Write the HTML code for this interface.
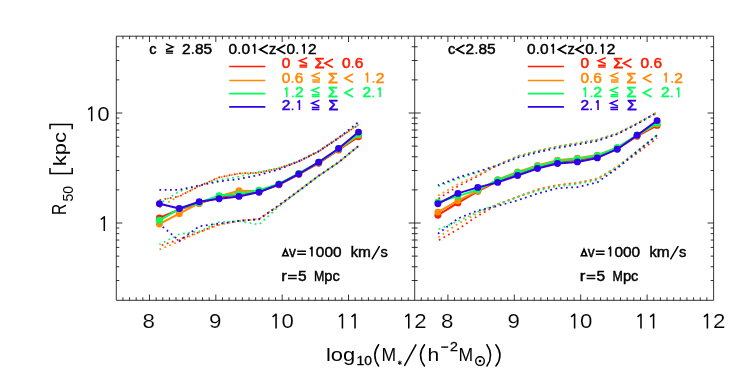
<!DOCTYPE html><html><head><meta charset="utf-8"><style>html,body{margin:0;padding:0;background:#fff}svg{display:block}text{font-family:"Liberation Sans",sans-serif;fill:#000}</style></head><body>
<svg width="747" height="374" viewBox="0 0 747 374">
<rect width="747" height="374" fill="#fff"/>
<polyline points="159.4,200.0 179.3,196.4 199.2,186.1 219.1,177.4 239.0,173.4 259.0,172.7 278.9,168.3 298.8,161.4 318.7,151.4 338.6,138.0 358.5,124.8" fill="none" stroke="#ff1e00" stroke-width="1.75" stroke-dasharray="1.75 3.55" stroke-dashoffset="0.06"/>
<polyline points="159.4,246.1 179.3,239.3 199.2,232.1 219.1,224.2 239.0,220.6 259.0,219.0 278.9,205.3 298.8,190.8 318.7,175.8 338.6,162.3 358.5,146.0" fill="none" stroke="#ff1e00" stroke-width="1.75" stroke-dasharray="1.75 3.55" stroke-dashoffset="2.80"/>
<polyline points="159.4,207.7 179.3,195.7 199.2,186.2 219.1,177.5 239.0,173.5 259.0,172.8 278.9,168.3 298.8,161.4 318.7,151.4 338.6,138.0 358.5,124.8" fill="none" stroke="#ff8a00" stroke-width="1.75" stroke-dasharray="1.75 3.55" stroke-dashoffset="0.28"/>
<polyline points="159.4,249.5 179.3,241.4 199.2,232.2 219.1,225.0 239.0,220.8 259.0,219.1 278.9,205.4 298.8,190.8 318.7,175.8 338.6,162.3 358.5,146.0" fill="none" stroke="#ff8a00" stroke-width="1.75" stroke-dasharray="1.75 3.55" stroke-dashoffset="5.24"/>
<polyline points="159.4,203.9 179.3,191.3 199.2,185.6 219.1,180.0 239.0,176.7 259.0,171.8 278.9,167.9 298.8,160.8 318.7,150.8 338.6,137.4 358.5,124.2" fill="none" stroke="#00ff5a" stroke-width="1.75" stroke-dasharray="1.75 3.55" stroke-dashoffset="1.37"/>
<polyline points="159.4,244.5 179.3,234.3 199.2,231.3 219.1,222.0 239.0,221.2 259.0,224.6 278.9,206.5 298.8,190.8 318.7,175.8 338.6,162.3 358.5,146.0" fill="none" stroke="#00ff5a" stroke-width="1.75" stroke-dasharray="1.75 3.55" stroke-dashoffset="0.36"/>
<polyline points="159.4,189.8 179.3,189.8 199.2,185.4 219.1,181.4 239.0,179.0 259.0,175.0 278.9,169.4 298.8,161.4 318.7,151.4 338.6,138.0 358.5,122.0" fill="none" stroke="#3200e6" stroke-width="1.75" stroke-dasharray="1.75 3.55" stroke-dashoffset="0.02"/>
<polyline points="159.4,224.0 179.3,240.8 199.2,226.3 219.1,223.6 239.0,221.0 259.0,219.3 278.9,205.3 298.8,190.8 318.7,175.8 338.6,162.3 358.5,146.0" fill="none" stroke="#3200e6" stroke-width="1.75" stroke-dasharray="1.75 3.55" stroke-dashoffset="0.93"/>
<polyline points="159.4,218.0 179.3,209.5 199.2,203.4 219.1,197.0 239.0,194.2 259.0,191.8 278.9,184.8 298.8,174.3 318.7,163.2 338.6,150.0 358.5,136.7" fill="none" stroke="#ff1e00" stroke-width="2.0" stroke-linejoin="round"/>
<circle cx="159.4" cy="218.0" r="3.45" fill="#ff1e00"/>
<circle cx="179.3" cy="209.5" r="3.45" fill="#ff1e00"/>
<circle cx="199.2" cy="203.4" r="3.45" fill="#ff1e00"/>
<circle cx="219.1" cy="197.0" r="3.45" fill="#ff1e00"/>
<circle cx="239.0" cy="194.2" r="3.45" fill="#ff1e00"/>
<circle cx="259.0" cy="191.8" r="3.45" fill="#ff1e00"/>
<circle cx="278.9" cy="184.8" r="3.45" fill="#ff1e00"/>
<circle cx="298.8" cy="174.3" r="3.45" fill="#ff1e00"/>
<circle cx="318.7" cy="163.2" r="3.45" fill="#ff1e00"/>
<circle cx="338.6" cy="150.0" r="3.45" fill="#ff1e00"/>
<circle cx="358.5" cy="136.7" r="3.45" fill="#ff1e00"/>
<polyline points="159.4,224.0 179.3,213.7 199.2,203.2 219.1,196.2 239.0,190.8 259.0,191.0 278.9,184.3 298.8,173.8 318.7,162.7 338.6,149.3 358.5,135.3" fill="none" stroke="#ff8a00" stroke-width="2.0" stroke-linejoin="round"/>
<circle cx="159.4" cy="224.0" r="3.45" fill="#ff8a00"/>
<circle cx="179.3" cy="213.7" r="3.45" fill="#ff8a00"/>
<circle cx="199.2" cy="203.2" r="3.45" fill="#ff8a00"/>
<circle cx="219.1" cy="196.2" r="3.45" fill="#ff8a00"/>
<circle cx="239.0" cy="190.8" r="3.45" fill="#ff8a00"/>
<circle cx="259.0" cy="191.0" r="3.45" fill="#ff8a00"/>
<circle cx="278.9" cy="184.3" r="3.45" fill="#ff8a00"/>
<circle cx="298.8" cy="173.8" r="3.45" fill="#ff8a00"/>
<circle cx="318.7" cy="162.7" r="3.45" fill="#ff8a00"/>
<circle cx="338.6" cy="149.3" r="3.45" fill="#ff8a00"/>
<circle cx="358.5" cy="135.3" r="3.45" fill="#ff8a00"/>
<polyline points="159.4,220.3 179.3,208.8 199.2,202.8 219.1,195.6 239.0,194.1 259.0,190.1 278.9,183.9 298.8,173.4 318.7,162.2 338.6,148.8 358.5,134.3" fill="none" stroke="#00ff5a" stroke-width="2.0" stroke-linejoin="round"/>
<circle cx="159.4" cy="220.3" r="3.45" fill="#00ff5a"/>
<circle cx="179.3" cy="208.8" r="3.45" fill="#00ff5a"/>
<circle cx="199.2" cy="202.8" r="3.45" fill="#00ff5a"/>
<circle cx="219.1" cy="195.6" r="3.45" fill="#00ff5a"/>
<circle cx="239.0" cy="194.1" r="3.45" fill="#00ff5a"/>
<circle cx="259.0" cy="190.1" r="3.45" fill="#00ff5a"/>
<circle cx="278.9" cy="183.9" r="3.45" fill="#00ff5a"/>
<circle cx="298.8" cy="173.4" r="3.45" fill="#00ff5a"/>
<circle cx="318.7" cy="162.2" r="3.45" fill="#00ff5a"/>
<circle cx="338.6" cy="148.8" r="3.45" fill="#00ff5a"/>
<circle cx="358.5" cy="134.3" r="3.45" fill="#00ff5a"/>
<polyline points="159.4,203.8 179.3,208.5 199.2,201.8 219.1,198.8 239.0,196.4 259.0,192.2 278.9,184.4 298.8,174.0 318.7,162.2 338.6,148.5 358.5,132.1" fill="none" stroke="#3200e6" stroke-width="2.0" stroke-linejoin="round"/>
<circle cx="159.4" cy="203.8" r="3.45" fill="#3200e6"/>
<circle cx="179.3" cy="208.5" r="3.45" fill="#3200e6"/>
<circle cx="199.2" cy="201.8" r="3.45" fill="#3200e6"/>
<circle cx="219.1" cy="198.8" r="3.45" fill="#3200e6"/>
<circle cx="239.0" cy="196.4" r="3.45" fill="#3200e6"/>
<circle cx="259.0" cy="192.2" r="3.45" fill="#3200e6"/>
<circle cx="278.9" cy="184.4" r="3.45" fill="#3200e6"/>
<circle cx="298.8" cy="174.0" r="3.45" fill="#3200e6"/>
<circle cx="318.7" cy="162.2" r="3.45" fill="#3200e6"/>
<circle cx="338.6" cy="148.5" r="3.45" fill="#3200e6"/>
<circle cx="358.5" cy="132.1" r="3.45" fill="#3200e6"/>
<polyline points="437.9,199.0 457.9,186.3 477.8,176.2 497.7,165.0 517.6,156.5 537.5,151.1 557.5,146.7 577.4,143.4 597.3,139.8 617.2,133.7 637.1,123.7 657.1,112.9" fill="none" stroke="#ff1e00" stroke-width="1.75" stroke-dasharray="1.75 3.55" stroke-dashoffset="4.63"/>
<polyline points="437.9,240.7 457.9,229.3 477.8,215.9 497.7,204.6 517.6,197.0 537.5,189.6 557.5,185.2 577.4,182.9 597.3,178.9 617.2,167.3 637.1,153.2 657.1,138.0" fill="none" stroke="#ff1e00" stroke-width="1.75" stroke-dasharray="1.75 3.55" stroke-dashoffset="4.17"/>
<polyline points="437.9,195.7 457.9,184.2 477.8,175.2 497.7,164.8 517.6,156.2 537.5,150.8 557.5,146.4 577.4,143.1 597.3,139.5 617.2,133.4 637.1,123.4 657.1,112.2" fill="none" stroke="#ff8a00" stroke-width="1.75" stroke-dasharray="1.75 3.55" stroke-dashoffset="5.07"/>
<polyline points="437.9,237.7 457.9,223.9 477.8,213.2 497.7,204.3 517.6,196.8 537.5,189.4 557.5,185.0 577.4,182.7 597.3,178.7 617.2,166.6 637.1,151.0 657.1,135.2" fill="none" stroke="#ff8a00" stroke-width="1.75" stroke-dasharray="1.75 3.55" stroke-dashoffset="4.70"/>
<polyline points="437.9,186.6 457.9,178.8 477.8,172.5 497.7,165.0 517.6,156.5 537.5,151.1 557.5,146.7 577.4,143.4 597.3,139.8 617.2,133.7 637.1,123.7 657.1,112.5" fill="none" stroke="#00ff5a" stroke-width="1.75" stroke-dasharray="1.75 3.55" stroke-dashoffset="4.57"/>
<polyline points="437.9,229.5 457.9,221.2 477.8,212.0 497.7,204.1 517.6,197.0 537.5,190.8 557.5,186.4 577.4,184.1 597.3,180.1 617.2,167.2 637.1,151.3 657.1,135.0" fill="none" stroke="#00ff5a" stroke-width="1.75" stroke-dasharray="1.75 3.55" stroke-dashoffset="4.34"/>
<polyline points="437.9,185.3 457.9,177.5 477.8,171.5 497.7,165.4 517.6,157.7 537.5,152.3 557.5,147.9 577.4,144.6 597.3,141.0 617.2,134.2 637.1,124.0 657.1,112.3" fill="none" stroke="#3200e6" stroke-width="1.75" stroke-dasharray="1.75 3.55" stroke-dashoffset="0.41"/>
<polyline points="437.9,233.8 457.9,218.5 477.8,210.5 497.7,206.0 517.6,200.3 537.5,193.6 557.5,188.2 577.4,187.1 597.3,182.4 617.2,168.4 637.1,151.5 657.1,135.2" fill="none" stroke="#3200e6" stroke-width="1.75" stroke-dasharray="1.75 3.55" stroke-dashoffset="5.16"/>
<polyline points="437.9,215.2 457.9,202.9 477.8,191.3 497.7,181.0 517.6,173.3 537.5,166.9 557.5,161.8 577.4,160.0 597.3,156.6 617.2,148.8 637.1,136.2 657.1,125.4" fill="none" stroke="#ff1e00" stroke-width="2.0" stroke-linejoin="round"/>
<circle cx="437.9" cy="215.2" r="3.45" fill="#ff1e00"/>
<circle cx="457.9" cy="202.9" r="3.45" fill="#ff1e00"/>
<circle cx="477.8" cy="191.3" r="3.45" fill="#ff1e00"/>
<circle cx="497.7" cy="181.0" r="3.45" fill="#ff1e00"/>
<circle cx="517.6" cy="173.3" r="3.45" fill="#ff1e00"/>
<circle cx="537.5" cy="166.9" r="3.45" fill="#ff1e00"/>
<circle cx="557.5" cy="161.8" r="3.45" fill="#ff1e00"/>
<circle cx="577.4" cy="160.0" r="3.45" fill="#ff1e00"/>
<circle cx="597.3" cy="156.6" r="3.45" fill="#ff1e00"/>
<circle cx="617.2" cy="148.8" r="3.45" fill="#ff1e00"/>
<circle cx="637.1" cy="136.2" r="3.45" fill="#ff1e00"/>
<circle cx="657.1" cy="125.4" r="3.45" fill="#ff1e00"/>
<polyline points="437.9,212.1 457.9,200.7 477.8,190.8 497.7,179.6 517.6,172.0 537.5,165.5 557.5,160.3 577.4,158.2 597.3,155.1 617.2,147.6 637.1,135.5 657.1,124.0" fill="none" stroke="#ff8a00" stroke-width="2.0" stroke-linejoin="round"/>
<circle cx="437.9" cy="212.1" r="3.45" fill="#ff8a00"/>
<circle cx="457.9" cy="200.7" r="3.45" fill="#ff8a00"/>
<circle cx="477.8" cy="190.8" r="3.45" fill="#ff8a00"/>
<circle cx="497.7" cy="179.6" r="3.45" fill="#ff8a00"/>
<circle cx="517.6" cy="172.0" r="3.45" fill="#ff8a00"/>
<circle cx="537.5" cy="165.5" r="3.45" fill="#ff8a00"/>
<circle cx="557.5" cy="160.3" r="3.45" fill="#ff8a00"/>
<circle cx="577.4" cy="158.2" r="3.45" fill="#ff8a00"/>
<circle cx="597.3" cy="155.1" r="3.45" fill="#ff8a00"/>
<circle cx="617.2" cy="147.6" r="3.45" fill="#ff8a00"/>
<circle cx="637.1" cy="135.5" r="3.45" fill="#ff8a00"/>
<circle cx="657.1" cy="124.0" r="3.45" fill="#ff8a00"/>
<polyline points="437.9,202.2 457.9,196.1 477.8,189.7 497.7,180.0 517.6,172.7 537.5,166.2 557.5,161.0 577.4,158.9 597.3,155.6 617.2,147.6 637.1,135.0 657.1,123.3" fill="none" stroke="#00ff5a" stroke-width="2.0" stroke-linejoin="round"/>
<circle cx="437.9" cy="202.2" r="3.45" fill="#00ff5a"/>
<circle cx="457.9" cy="196.1" r="3.45" fill="#00ff5a"/>
<circle cx="477.8" cy="189.7" r="3.45" fill="#00ff5a"/>
<circle cx="497.7" cy="180.0" r="3.45" fill="#00ff5a"/>
<circle cx="517.6" cy="172.7" r="3.45" fill="#00ff5a"/>
<circle cx="537.5" cy="166.2" r="3.45" fill="#00ff5a"/>
<circle cx="557.5" cy="161.0" r="3.45" fill="#00ff5a"/>
<circle cx="577.4" cy="158.9" r="3.45" fill="#00ff5a"/>
<circle cx="597.3" cy="155.6" r="3.45" fill="#00ff5a"/>
<circle cx="617.2" cy="147.6" r="3.45" fill="#00ff5a"/>
<circle cx="637.1" cy="135.0" r="3.45" fill="#00ff5a"/>
<circle cx="657.1" cy="123.3" r="3.45" fill="#00ff5a"/>
<polyline points="437.9,203.8 457.9,193.4 477.8,187.4 497.7,182.4 517.6,175.5 537.5,168.5 557.5,163.5 577.4,161.9 597.3,157.9 617.2,149.2 637.1,135.3 657.1,120.6" fill="none" stroke="#3200e6" stroke-width="2.0" stroke-linejoin="round"/>
<circle cx="437.9" cy="203.8" r="3.45" fill="#3200e6"/>
<circle cx="457.9" cy="193.4" r="3.45" fill="#3200e6"/>
<circle cx="477.8" cy="187.4" r="3.45" fill="#3200e6"/>
<circle cx="497.7" cy="182.4" r="3.45" fill="#3200e6"/>
<circle cx="517.6" cy="175.5" r="3.45" fill="#3200e6"/>
<circle cx="537.5" cy="168.5" r="3.45" fill="#3200e6"/>
<circle cx="557.5" cy="163.5" r="3.45" fill="#3200e6"/>
<circle cx="577.4" cy="161.9" r="3.45" fill="#3200e6"/>
<circle cx="597.3" cy="157.9" r="3.45" fill="#3200e6"/>
<circle cx="617.2" cy="149.2" r="3.45" fill="#3200e6"/>
<circle cx="637.1" cy="135.3" r="3.45" fill="#3200e6"/>
<circle cx="657.1" cy="120.6" r="3.45" fill="#3200e6"/>
<path d="M116.3 36.2H713.6V300.3H116.3ZM414.7 36.2V300.3M122.93 300.3v-3.0M122.93 36.2v3.0M129.57 300.3v-3.0M129.57 36.2v3.0M136.20 300.3v-3.0M136.20 36.2v3.0M142.84 300.3v-3.0M142.84 36.2v3.0M149.47 300.3v-5.8M149.47 36.2v5.8M156.11 300.3v-3.0M156.11 36.2v3.0M162.74 300.3v-3.0M162.74 36.2v3.0M169.38 300.3v-3.0M169.38 36.2v3.0M176.02 300.3v-3.0M176.02 36.2v3.0M182.65 300.3v-3.0M182.65 36.2v3.0M189.28 300.3v-3.0M189.28 36.2v3.0M195.92 300.3v-3.0M195.92 36.2v3.0M202.56 300.3v-3.0M202.56 36.2v3.0M209.19 300.3v-3.0M209.19 36.2v3.0M215.82 300.3v-5.8M215.82 36.2v5.8M222.46 300.3v-3.0M222.46 36.2v3.0M229.09 300.3v-3.0M229.09 36.2v3.0M235.73 300.3v-3.0M235.73 36.2v3.0M242.37 300.3v-3.0M242.37 36.2v3.0M249.00 300.3v-3.0M249.00 36.2v3.0M255.63 300.3v-3.0M255.63 36.2v3.0M262.27 300.3v-3.0M262.27 36.2v3.0M268.91 300.3v-3.0M268.91 36.2v3.0M275.54 300.3v-3.0M275.54 36.2v3.0M282.18 300.3v-5.8M282.18 36.2v5.8M288.81 300.3v-3.0M288.81 36.2v3.0M295.44 300.3v-3.0M295.44 36.2v3.0M302.08 300.3v-3.0M302.08 36.2v3.0M308.72 300.3v-3.0M308.72 36.2v3.0M315.35 300.3v-3.0M315.35 36.2v3.0M321.98 300.3v-3.0M321.98 36.2v3.0M328.62 300.3v-3.0M328.62 36.2v3.0M335.26 300.3v-3.0M335.26 36.2v3.0M341.89 300.3v-3.0M341.89 36.2v3.0M348.52 300.3v-5.8M348.52 36.2v5.8M355.16 300.3v-3.0M355.16 36.2v3.0M361.79 300.3v-3.0M361.79 36.2v3.0M368.43 300.3v-3.0M368.43 36.2v3.0M375.06 300.3v-3.0M375.06 36.2v3.0M381.70 300.3v-3.0M381.70 36.2v3.0M388.33 300.3v-3.0M388.33 36.2v3.0M394.97 300.3v-3.0M394.97 36.2v3.0M401.61 300.3v-3.0M401.61 36.2v3.0M408.24 300.3v-3.0M408.24 36.2v3.0M421.34 300.3v-3.0M421.34 36.2v3.0M427.98 300.3v-3.0M427.98 36.2v3.0M434.62 300.3v-3.0M434.62 36.2v3.0M441.26 300.3v-3.0M441.26 36.2v3.0M447.90 300.3v-5.8M447.90 36.2v5.8M454.54 300.3v-3.0M454.54 36.2v3.0M461.18 300.3v-3.0M461.18 36.2v3.0M467.82 300.3v-3.0M467.82 36.2v3.0M474.46 300.3v-3.0M474.46 36.2v3.0M481.10 300.3v-3.0M481.10 36.2v3.0M487.74 300.3v-3.0M487.74 36.2v3.0M494.38 300.3v-3.0M494.38 36.2v3.0M501.02 300.3v-3.0M501.02 36.2v3.0M507.66 300.3v-3.0M507.66 36.2v3.0M514.30 300.3v-5.8M514.30 36.2v5.8M520.94 300.3v-3.0M520.94 36.2v3.0M527.58 300.3v-3.0M527.58 36.2v3.0M534.22 300.3v-3.0M534.22 36.2v3.0M540.86 300.3v-3.0M540.86 36.2v3.0M547.50 300.3v-3.0M547.50 36.2v3.0M554.14 300.3v-3.0M554.14 36.2v3.0M560.78 300.3v-3.0M560.78 36.2v3.0M567.42 300.3v-3.0M567.42 36.2v3.0M574.06 300.3v-3.0M574.06 36.2v3.0M580.70 300.3v-5.8M580.70 36.2v5.8M587.34 300.3v-3.0M587.34 36.2v3.0M593.98 300.3v-3.0M593.98 36.2v3.0M600.62 300.3v-3.0M600.62 36.2v3.0M607.26 300.3v-3.0M607.26 36.2v3.0M613.90 300.3v-3.0M613.90 36.2v3.0M620.54 300.3v-3.0M620.54 36.2v3.0M627.18 300.3v-3.0M627.18 36.2v3.0M633.82 300.3v-3.0M633.82 36.2v3.0M640.46 300.3v-3.0M640.46 36.2v3.0M647.10 300.3v-5.8M647.10 36.2v5.8M653.74 300.3v-3.0M653.74 36.2v3.0M660.38 300.3v-3.0M660.38 36.2v3.0M667.02 300.3v-3.0M667.02 36.2v3.0M673.66 300.3v-3.0M673.66 36.2v3.0M680.30 300.3v-3.0M680.30 36.2v3.0M686.94 300.3v-3.0M686.94 36.2v3.0M693.58 300.3v-3.0M693.58 36.2v3.0M700.22 300.3v-3.0M700.22 36.2v3.0M706.86 300.3v-3.0M706.86 36.2v3.0M116.3 280.52h3.0M414.7 280.52h-3.0M414.7 280.52h3.0M713.6 280.52h-3.0M116.3 266.77h3.0M414.7 266.77h-3.0M414.7 266.77h3.0M713.6 266.77h-3.0M116.3 256.11h3.0M414.7 256.11h-3.0M414.7 256.11h3.0M713.6 256.11h-3.0M116.3 247.40h3.0M414.7 247.40h-3.0M414.7 247.40h3.0M713.6 247.40h-3.0M116.3 240.04h3.0M414.7 240.04h-3.0M414.7 240.04h3.0M713.6 240.04h-3.0M116.3 233.66h3.0M414.7 233.66h-3.0M414.7 233.66h3.0M713.6 233.66h-3.0M116.3 228.03h3.0M414.7 228.03h-3.0M414.7 228.03h3.0M713.6 228.03h-3.0M116.3 223.00h6.0M414.7 223.00h-6.0M414.7 223.00h6.0M713.6 223.00h-6.0M116.3 189.89h3.0M414.7 189.89h-3.0M414.7 189.89h3.0M713.6 189.89h-3.0M116.3 170.52h3.0M414.7 170.52h-3.0M414.7 170.52h3.0M713.6 170.52h-3.0M116.3 156.77h3.0M414.7 156.77h-3.0M414.7 156.77h3.0M713.6 156.77h-3.0M116.3 146.11h3.0M414.7 146.11h-3.0M414.7 146.11h3.0M713.6 146.11h-3.0M116.3 137.40h3.0M414.7 137.40h-3.0M414.7 137.40h3.0M713.6 137.40h-3.0M116.3 130.04h3.0M414.7 130.04h-3.0M414.7 130.04h3.0M713.6 130.04h-3.0M116.3 123.66h3.0M414.7 123.66h-3.0M414.7 123.66h3.0M713.6 123.66h-3.0M116.3 118.03h3.0M414.7 118.03h-3.0M414.7 118.03h3.0M713.6 118.03h-3.0M116.3 113.00h6.0M414.7 113.00h-6.0M414.7 113.00h6.0M713.6 113.00h-6.0M116.3 79.89h3.0M414.7 79.89h-3.0M414.7 79.89h3.0M713.6 79.89h-3.0M116.3 60.52h3.0M414.7 60.52h-3.0M414.7 60.52h3.0M713.6 60.52h-3.0M116.3 46.77h3.0M414.7 46.77h-3.0M414.7 46.77h3.0M713.6 46.77h-3.0" stroke="#000" stroke-width="0.8" fill="none"/>
<g opacity="0.999">
<text x="142.6" y="328.4" font-size="20.5" textLength="12.4" lengthAdjust="spacingAndGlyphs" stroke="#fff" stroke-width="0.15">8</text>
<text x="208.9" y="328.4" font-size="20.5" textLength="12.4" lengthAdjust="spacingAndGlyphs" stroke="#fff" stroke-width="0.15">9</text>
<path d="M272.57 316.90L276.07 314.20V328.40" fill="none" stroke="#000" stroke-width="1.55" stroke-linejoin="round"/>
<text x="281.6" y="328.4" font-size="20.5" textLength="12.4" lengthAdjust="spacingAndGlyphs" stroke="#fff" stroke-width="0.15">0</text>
<path d="M338.92 316.90L342.42 314.20V328.40" fill="none" stroke="#000" stroke-width="1.55" stroke-linejoin="round"/>
<path d="M351.52 316.90L355.02 314.20V328.40" fill="none" stroke="#000" stroke-width="1.55" stroke-linejoin="round"/>
<path d="M405.27 316.90L408.77 314.20V328.40" fill="none" stroke="#000" stroke-width="1.55" stroke-linejoin="round"/>
<text x="414.3" y="328.4" font-size="20.5" textLength="12.4" lengthAdjust="spacingAndGlyphs" stroke="#fff" stroke-width="0.15">2</text>
<text x="441.0" y="328.4" font-size="20.5" textLength="12.4" lengthAdjust="spacingAndGlyphs" stroke="#fff" stroke-width="0.15">8</text>
<text x="507.4" y="328.4" font-size="20.5" textLength="12.4" lengthAdjust="spacingAndGlyphs" stroke="#fff" stroke-width="0.15">9</text>
<path d="M571.10 316.90L574.60 314.20V328.40" fill="none" stroke="#000" stroke-width="1.55" stroke-linejoin="round"/>
<text x="580.1" y="328.4" font-size="20.5" textLength="12.4" lengthAdjust="spacingAndGlyphs" stroke="#fff" stroke-width="0.15">0</text>
<path d="M637.50 316.90L641.00 314.20V328.40" fill="none" stroke="#000" stroke-width="1.55" stroke-linejoin="round"/>
<path d="M650.10 316.90L653.60 314.20V328.40" fill="none" stroke="#000" stroke-width="1.55" stroke-linejoin="round"/>
<path d="M703.90 316.90L707.40 314.20V328.40" fill="none" stroke="#000" stroke-width="1.55" stroke-linejoin="round"/>
<text x="712.9" y="328.4" font-size="20.5" textLength="12.4" lengthAdjust="spacingAndGlyphs" stroke="#fff" stroke-width="0.15">2</text>
<path d="M88.20 109.70L91.70 107.00V121.20" fill="none" stroke="#000" stroke-width="1.55" stroke-linejoin="round"/>
<text x="97.2" y="121.2" font-size="20.5" textLength="12.4" lengthAdjust="spacingAndGlyphs" stroke="#fff" stroke-width="0.15">0</text>
<path d="M100.80 219.50L104.30 216.80V231.00" fill="none" stroke="#000" stroke-width="1.55" stroke-linejoin="round"/>
<text x="149.2" y="53.8" font-size="14.0" textLength="7.3" lengthAdjust="spacingAndGlyphs" fill="#000" style="fill:#000" stroke="#000" stroke-width="0.45">c</text>
<path d="M165.9 43.8L173.1 46.9L165.9 49.8M165.9 51.3H173.1M165.9 53.1H173.1" fill="none" stroke="#000" stroke-width="1.40"/>
<text x="182.0" y="53.8" font-size="14.0" textLength="8.6" lengthAdjust="spacingAndGlyphs" fill="#000" style="fill:#000" stroke="#000" stroke-width="0.45">2</text>
<rect x="191.90" y="52.20" width="1.7" height="1.7" fill="#000"/>
<text x="194.9" y="53.8" font-size="14.0" textLength="8.6" lengthAdjust="spacingAndGlyphs" fill="#000" style="fill:#000" stroke="#000" stroke-width="0.45">8</text>
<text x="203.5" y="53.8" font-size="14.0" textLength="8.6" lengthAdjust="spacingAndGlyphs" fill="#000" style="fill:#000" stroke="#000" stroke-width="0.45">5</text>
<text x="228.5" y="53.8" font-size="14.0" textLength="8.6" lengthAdjust="spacingAndGlyphs" fill="#000" style="fill:#000" stroke="#000" stroke-width="0.45">0</text>
<rect x="238.40" y="52.20" width="1.7" height="1.7" fill="#000"/>
<text x="241.4" y="53.8" font-size="14.0" textLength="8.6" lengthAdjust="spacingAndGlyphs" fill="#000" style="fill:#000" stroke="#000" stroke-width="0.45">0</text>
<path d="M252.58 46.09L253.44 45.66L254.73 44.37V53.80" fill="none" stroke="#000" stroke-width="1.6" stroke-linejoin="round"/>
<path d="M267.8 45.1L259.8 49.4L267.8 53.7" fill="none" stroke="#000" stroke-width="1.70"/>
<text x="268.9" y="53.8" font-size="14.0" textLength="7.3" lengthAdjust="spacingAndGlyphs" fill="#000" style="fill:#000" stroke="#000" stroke-width="0.45">z</text>
<path d="M285.4 45.1L277.4 49.4L285.4 53.7" fill="none" stroke="#000" stroke-width="1.70"/>
<text x="286.6" y="53.8" font-size="14.0" textLength="8.6" lengthAdjust="spacingAndGlyphs" fill="#000" style="fill:#000" stroke="#000" stroke-width="0.45">0</text>
<rect x="296.45" y="52.20" width="1.7" height="1.7" fill="#000"/>
<path d="M302.03 46.09L302.89 45.66L304.18 44.37V53.80" fill="none" stroke="#000" stroke-width="1.6" stroke-linejoin="round"/>
<text x="308.1" y="53.8" font-size="14.0" textLength="8.6" lengthAdjust="spacingAndGlyphs" fill="#000" style="fill:#000" stroke="#000" stroke-width="0.45">2</text>
<path d="M229.2 66.5H265.3" stroke="#ff1e00" stroke-width="1.7"/>
<path d="M229.2 80.5H265.3" stroke="#ff8a00" stroke-width="1.7"/>
<path d="M229.2 93.7H265.3" stroke="#00ff5a" stroke-width="1.7"/>
<path d="M229.2 106.9H265.3" stroke="#3200e6" stroke-width="1.7"/>
<text x="281.8" y="67.7" font-size="14.0" textLength="8.6" lengthAdjust="spacingAndGlyphs" fill="#ff1e00" style="fill:#ff1e00" stroke="#ff1e00" stroke-width="0.55">0</text>
<path d="M307.1 57.7L299.5 60.8L307.1 63.7M299.5 65.2H307.1M299.5 67.0H307.1" fill="none" stroke="#ff1e00" stroke-width="1.50"/>
<text x="314.7" y="67.7" font-size="15.0" textLength="9.8" lengthAdjust="spacingAndGlyphs" fill="#ff1e00" style="fill:#ff1e00" stroke="#ff1e00" stroke-width="0.75">Σ</text>
<path d="M332.9 59.0L324.9 63.3L332.9 67.6" fill="none" stroke="#ff1e00" stroke-width="1.70"/>
<text x="341.9" y="67.7" font-size="14.0" textLength="8.6" lengthAdjust="spacingAndGlyphs" fill="#ff1e00" style="fill:#ff1e00" stroke="#ff1e00" stroke-width="0.55">0</text>
<rect x="351.80" y="66.10" width="1.7" height="1.7" fill="#ff1e00"/>
<text x="354.8" y="67.7" font-size="14.0" textLength="8.6" lengthAdjust="spacingAndGlyphs" fill="#ff1e00" style="fill:#ff1e00" stroke="#ff1e00" stroke-width="0.55">6</text>
<text x="281.8" y="82.6" font-size="14.0" textLength="8.6" lengthAdjust="spacingAndGlyphs" fill="#ff8a00" style="fill:#ff8a00" stroke="#ff8a00" stroke-width="0.55">0</text>
<rect x="291.70" y="81.00" width="1.7" height="1.7" fill="#ff8a00"/>
<text x="294.7" y="82.6" font-size="14.0" textLength="8.6" lengthAdjust="spacingAndGlyphs" fill="#ff8a00" style="fill:#ff8a00" stroke="#ff8a00" stroke-width="0.55">6</text>
<path d="M319.9 72.6L312.3 75.7L319.9 78.6M312.3 80.1H319.9M312.3 81.9H319.9" fill="none" stroke="#ff8a00" stroke-width="1.50"/>
<text x="327.9" y="82.6" font-size="15.0" textLength="9.8" lengthAdjust="spacingAndGlyphs" fill="#ff8a00" style="fill:#ff8a00" stroke="#ff8a00" stroke-width="0.75">Σ</text>
<path d="M353.0 73.9L345.0 78.2L353.0 82.5" fill="none" stroke="#ff8a00" stroke-width="1.70"/>
<path d="M365.38 74.89L366.24 74.46L367.53 73.17V82.60" fill="none" stroke="#ff8a00" stroke-width="1.6" stroke-linejoin="round"/>
<rect x="372.70" y="81.00" width="1.7" height="1.7" fill="#ff8a00"/>
<text x="375.7" y="82.6" font-size="14.0" textLength="8.6" lengthAdjust="spacingAndGlyphs" fill="#ff8a00" style="fill:#ff8a00" stroke="#ff8a00" stroke-width="0.55">2</text>
<path d="M284.68 89.49L285.54 89.06L286.83 87.77V97.20" fill="none" stroke="#00ff5a" stroke-width="1.6" stroke-linejoin="round"/>
<rect x="292.00" y="95.60" width="1.7" height="1.7" fill="#00ff5a"/>
<text x="295.0" y="97.2" font-size="14.0" textLength="8.6" lengthAdjust="spacingAndGlyphs" fill="#00ff5a" style="fill:#00ff5a" stroke="#00ff5a" stroke-width="0.55">2</text>
<path d="M319.6 87.2L312.0 90.3L319.6 93.2M312.0 94.8H319.6M312.0 96.5H319.6" fill="none" stroke="#00ff5a" stroke-width="1.50"/>
<text x="327.9" y="97.2" font-size="15.0" textLength="9.8" lengthAdjust="spacingAndGlyphs" fill="#00ff5a" style="fill:#00ff5a" stroke="#00ff5a" stroke-width="0.75">Σ</text>
<path d="M353.0 88.5L345.0 92.8L353.0 97.1" fill="none" stroke="#00ff5a" stroke-width="1.70"/>
<text x="362.5" y="97.2" font-size="14.0" textLength="8.6" lengthAdjust="spacingAndGlyphs" fill="#00ff5a" style="fill:#00ff5a" stroke="#00ff5a" stroke-width="0.55">2</text>
<rect x="372.40" y="95.60" width="1.7" height="1.7" fill="#00ff5a"/>
<path d="M377.98 89.49L378.84 89.06L380.13 87.77V97.20" fill="none" stroke="#00ff5a" stroke-width="1.6" stroke-linejoin="round"/>
<text x="281.8" y="110.1" font-size="14.0" textLength="8.6" lengthAdjust="spacingAndGlyphs" fill="#3200e6" style="fill:#3200e6" stroke="#3200e6" stroke-width="0.55">2</text>
<rect x="291.70" y="108.50" width="1.7" height="1.7" fill="#3200e6"/>
<path d="M297.28 102.39L298.14 101.96L299.43 100.67V110.10" fill="none" stroke="#3200e6" stroke-width="1.6" stroke-linejoin="round"/>
<path d="M319.4 100.1L311.8 103.2L319.4 106.1M311.8 107.6H319.4M311.8 109.4H319.4" fill="none" stroke="#3200e6" stroke-width="1.50"/>
<text x="328.4" y="110.1" font-size="15.0" textLength="9.8" lengthAdjust="spacingAndGlyphs" fill="#3200e6" style="fill:#3200e6" stroke="#3200e6" stroke-width="0.75">Σ</text>
<path d="M282.70 255.75L285.40 249.40L288.10 255.75Z" fill="none" stroke="#000" stroke-width="1.7" stroke-linejoin="miter"/>
<text x="289.1" y="256.6" font-size="14.0" textLength="6.9" lengthAdjust="spacingAndGlyphs" fill="#000" style="fill:#000" stroke="#000" stroke-width="0.45">v</text>
<path d="M297.24 251.14h8.74M297.24 254.32h8.74" fill="none" stroke="#000" stroke-width="1.5"/>
<path d="M309.78 248.89L310.64 248.46L311.93 247.17V256.60" fill="none" stroke="#000" stroke-width="1.6" stroke-linejoin="round"/>
<text x="315.8" y="256.6" font-size="14.0" textLength="8.6" lengthAdjust="spacingAndGlyphs" fill="#000" style="fill:#000" stroke="#000" stroke-width="0.45">0</text>
<text x="324.4" y="256.6" font-size="14.0" textLength="8.6" lengthAdjust="spacingAndGlyphs" fill="#000" style="fill:#000" stroke="#000" stroke-width="0.45">0</text>
<text x="333.0" y="256.6" font-size="14.0" textLength="8.6" lengthAdjust="spacingAndGlyphs" fill="#000" style="fill:#000" stroke="#000" stroke-width="0.45">0</text>
<text x="350.8" y="256.6" font-size="14.0" textLength="7.3" lengthAdjust="spacingAndGlyphs" fill="#000" style="fill:#000" stroke="#000" stroke-width="0.45">k</text>
<text x="358.1" y="256.6" font-size="14.0" textLength="12.9" lengthAdjust="spacingAndGlyphs" fill="#000" style="fill:#000" stroke="#000" stroke-width="0.45">m</text>
<path d="M379.61 246.07L371.87 259.40" fill="none" stroke="#000" stroke-width="1.5"/>
<text x="380.5" y="256.6" font-size="14.0" textLength="7.3" lengthAdjust="spacingAndGlyphs" fill="#000" style="fill:#000" stroke="#000" stroke-width="0.45">s</text>
<text x="281.2" y="280.9" font-size="14.0" textLength="5.6" lengthAdjust="spacingAndGlyphs" fill="#000" style="fill:#000" stroke="#000" stroke-width="0.45">r</text>
<path d="M288.01 275.44h8.74M288.01 278.62h8.74" fill="none" stroke="#000" stroke-width="1.5"/>
<text x="298.0" y="280.9" font-size="14.0" textLength="8.6" lengthAdjust="spacingAndGlyphs" fill="#000" style="fill:#000" stroke="#000" stroke-width="0.45">5</text>
<text x="314.0" y="280.9" font-size="14.0" textLength="10.3" lengthAdjust="spacingAndGlyphs" fill="#000" style="fill:#000" stroke="#000" stroke-width="0.45">M</text>
<text x="324.3" y="280.9" font-size="14.0" textLength="8.2" lengthAdjust="spacingAndGlyphs" fill="#000" style="fill:#000" stroke="#000" stroke-width="0.45">p</text>
<text x="332.5" y="280.9" font-size="14.0" textLength="7.3" lengthAdjust="spacingAndGlyphs" fill="#000" style="fill:#000" stroke="#000" stroke-width="0.45">c</text>
<text x="448.0" y="53.8" font-size="14.0" textLength="7.3" lengthAdjust="spacingAndGlyphs" fill="#000" style="fill:#000" stroke="#000" stroke-width="0.45">c</text>
<path d="M464.5 45.1L456.5 49.4L464.5 53.7" fill="none" stroke="#000" stroke-width="1.70"/>
<text x="465.6" y="53.8" font-size="14.0" textLength="8.6" lengthAdjust="spacingAndGlyphs" fill="#000" style="fill:#000" stroke="#000" stroke-width="0.45">2</text>
<rect x="475.53" y="52.20" width="1.7" height="1.7" fill="#000"/>
<text x="478.5" y="53.8" font-size="14.0" textLength="8.6" lengthAdjust="spacingAndGlyphs" fill="#000" style="fill:#000" stroke="#000" stroke-width="0.45">8</text>
<text x="487.1" y="53.8" font-size="14.0" textLength="8.6" lengthAdjust="spacingAndGlyphs" fill="#000" style="fill:#000" stroke="#000" stroke-width="0.45">5</text>
<text x="527.1" y="53.8" font-size="14.0" textLength="8.6" lengthAdjust="spacingAndGlyphs" fill="#000" style="fill:#000" stroke="#000" stroke-width="0.45">0</text>
<rect x="537.00" y="52.20" width="1.7" height="1.7" fill="#000"/>
<text x="540.0" y="53.8" font-size="14.0" textLength="8.6" lengthAdjust="spacingAndGlyphs" fill="#000" style="fill:#000" stroke="#000" stroke-width="0.45">0</text>
<path d="M551.18 46.09L552.04 45.66L553.33 44.37V53.80" fill="none" stroke="#000" stroke-width="1.6" stroke-linejoin="round"/>
<path d="M566.4 45.1L558.4 49.4L566.4 53.7" fill="none" stroke="#000" stroke-width="1.70"/>
<text x="567.5" y="53.8" font-size="14.0" textLength="7.3" lengthAdjust="spacingAndGlyphs" fill="#000" style="fill:#000" stroke="#000" stroke-width="0.45">z</text>
<path d="M584.0 45.1L576.0 49.4L584.0 53.7" fill="none" stroke="#000" stroke-width="1.70"/>
<text x="585.2" y="53.8" font-size="14.0" textLength="8.6" lengthAdjust="spacingAndGlyphs" fill="#000" style="fill:#000" stroke="#000" stroke-width="0.45">0</text>
<rect x="595.05" y="52.20" width="1.7" height="1.7" fill="#000"/>
<path d="M600.63 46.09L601.49 45.66L602.78 44.37V53.80" fill="none" stroke="#000" stroke-width="1.6" stroke-linejoin="round"/>
<text x="606.7" y="53.8" font-size="14.0" textLength="8.6" lengthAdjust="spacingAndGlyphs" fill="#000" style="fill:#000" stroke="#000" stroke-width="0.45">2</text>
<path d="M527.8 66.5H563.9" stroke="#ff1e00" stroke-width="1.7"/>
<path d="M527.8 80.5H563.9" stroke="#ff8a00" stroke-width="1.7"/>
<path d="M527.8 93.7H563.9" stroke="#00ff5a" stroke-width="1.7"/>
<path d="M527.8 106.9H563.9" stroke="#3200e6" stroke-width="1.7"/>
<text x="580.4" y="67.7" font-size="14.0" textLength="8.6" lengthAdjust="spacingAndGlyphs" fill="#ff1e00" style="fill:#ff1e00" stroke="#ff1e00" stroke-width="0.55">0</text>
<path d="M605.7 57.7L598.1 60.8L605.7 63.7M598.1 65.2H605.7M598.1 67.0H605.7" fill="none" stroke="#ff1e00" stroke-width="1.50"/>
<text x="613.3" y="67.7" font-size="15.0" textLength="9.8" lengthAdjust="spacingAndGlyphs" fill="#ff1e00" style="fill:#ff1e00" stroke="#ff1e00" stroke-width="0.75">Σ</text>
<path d="M631.5 59.0L623.5 63.3L631.5 67.6" fill="none" stroke="#ff1e00" stroke-width="1.70"/>
<text x="640.5" y="67.7" font-size="14.0" textLength="8.6" lengthAdjust="spacingAndGlyphs" fill="#ff1e00" style="fill:#ff1e00" stroke="#ff1e00" stroke-width="0.55">0</text>
<rect x="650.40" y="66.10" width="1.7" height="1.7" fill="#ff1e00"/>
<text x="653.4" y="67.7" font-size="14.0" textLength="8.6" lengthAdjust="spacingAndGlyphs" fill="#ff1e00" style="fill:#ff1e00" stroke="#ff1e00" stroke-width="0.55">6</text>
<text x="580.4" y="82.6" font-size="14.0" textLength="8.6" lengthAdjust="spacingAndGlyphs" fill="#ff8a00" style="fill:#ff8a00" stroke="#ff8a00" stroke-width="0.55">0</text>
<rect x="590.30" y="81.00" width="1.7" height="1.7" fill="#ff8a00"/>
<text x="593.3" y="82.6" font-size="14.0" textLength="8.6" lengthAdjust="spacingAndGlyphs" fill="#ff8a00" style="fill:#ff8a00" stroke="#ff8a00" stroke-width="0.55">6</text>
<path d="M618.5 72.6L610.9 75.7L618.5 78.6M610.9 80.1H618.5M610.9 81.9H618.5" fill="none" stroke="#ff8a00" stroke-width="1.50"/>
<text x="626.5" y="82.6" font-size="15.0" textLength="9.8" lengthAdjust="spacingAndGlyphs" fill="#ff8a00" style="fill:#ff8a00" stroke="#ff8a00" stroke-width="0.75">Σ</text>
<path d="M651.6 73.9L643.6 78.2L651.6 82.5" fill="none" stroke="#ff8a00" stroke-width="1.70"/>
<path d="M663.98 74.89L664.84 74.46L666.13 73.17V82.60" fill="none" stroke="#ff8a00" stroke-width="1.6" stroke-linejoin="round"/>
<rect x="671.30" y="81.00" width="1.7" height="1.7" fill="#ff8a00"/>
<text x="674.3" y="82.6" font-size="14.0" textLength="8.6" lengthAdjust="spacingAndGlyphs" fill="#ff8a00" style="fill:#ff8a00" stroke="#ff8a00" stroke-width="0.55">2</text>
<path d="M583.28 89.49L584.14 89.06L585.43 87.77V97.20" fill="none" stroke="#00ff5a" stroke-width="1.6" stroke-linejoin="round"/>
<rect x="590.60" y="95.60" width="1.7" height="1.7" fill="#00ff5a"/>
<text x="593.6" y="97.2" font-size="14.0" textLength="8.6" lengthAdjust="spacingAndGlyphs" fill="#00ff5a" style="fill:#00ff5a" stroke="#00ff5a" stroke-width="0.55">2</text>
<path d="M618.2 87.2L610.6 90.3L618.2 93.2M610.6 94.8H618.2M610.6 96.5H618.2" fill="none" stroke="#00ff5a" stroke-width="1.50"/>
<text x="626.5" y="97.2" font-size="15.0" textLength="9.8" lengthAdjust="spacingAndGlyphs" fill="#00ff5a" style="fill:#00ff5a" stroke="#00ff5a" stroke-width="0.75">Σ</text>
<path d="M651.6 88.5L643.6 92.8L651.6 97.1" fill="none" stroke="#00ff5a" stroke-width="1.70"/>
<text x="661.1" y="97.2" font-size="14.0" textLength="8.6" lengthAdjust="spacingAndGlyphs" fill="#00ff5a" style="fill:#00ff5a" stroke="#00ff5a" stroke-width="0.55">2</text>
<rect x="671.00" y="95.60" width="1.7" height="1.7" fill="#00ff5a"/>
<path d="M676.58 89.49L677.44 89.06L678.73 87.77V97.20" fill="none" stroke="#00ff5a" stroke-width="1.6" stroke-linejoin="round"/>
<text x="580.4" y="110.1" font-size="14.0" textLength="8.6" lengthAdjust="spacingAndGlyphs" fill="#3200e6" style="fill:#3200e6" stroke="#3200e6" stroke-width="0.55">2</text>
<rect x="590.30" y="108.50" width="1.7" height="1.7" fill="#3200e6"/>
<path d="M595.88 102.39L596.74 101.96L598.03 100.67V110.10" fill="none" stroke="#3200e6" stroke-width="1.6" stroke-linejoin="round"/>
<path d="M618.0 100.1L610.4 103.2L618.0 106.1M610.4 107.6H618.0M610.4 109.4H618.0" fill="none" stroke="#3200e6" stroke-width="1.50"/>
<text x="627.0" y="110.1" font-size="15.0" textLength="9.8" lengthAdjust="spacingAndGlyphs" fill="#3200e6" style="fill:#3200e6" stroke="#3200e6" stroke-width="0.75">Σ</text>
<path d="M581.30 255.75L584.00 249.40L586.70 255.75Z" fill="none" stroke="#000" stroke-width="1.7" stroke-linejoin="miter"/>
<text x="587.7" y="256.6" font-size="14.0" textLength="6.9" lengthAdjust="spacingAndGlyphs" fill="#000" style="fill:#000" stroke="#000" stroke-width="0.45">v</text>
<path d="M595.84 251.14h8.74M595.84 254.32h8.74" fill="none" stroke="#000" stroke-width="1.5"/>
<path d="M608.38 248.89L609.24 248.46L610.53 247.17V256.60" fill="none" stroke="#000" stroke-width="1.6" stroke-linejoin="round"/>
<text x="614.4" y="256.6" font-size="14.0" textLength="8.6" lengthAdjust="spacingAndGlyphs" fill="#000" style="fill:#000" stroke="#000" stroke-width="0.45">0</text>
<text x="623.0" y="256.6" font-size="14.0" textLength="8.6" lengthAdjust="spacingAndGlyphs" fill="#000" style="fill:#000" stroke="#000" stroke-width="0.45">0</text>
<text x="631.6" y="256.6" font-size="14.0" textLength="8.6" lengthAdjust="spacingAndGlyphs" fill="#000" style="fill:#000" stroke="#000" stroke-width="0.45">0</text>
<text x="649.4" y="256.6" font-size="14.0" textLength="7.3" lengthAdjust="spacingAndGlyphs" fill="#000" style="fill:#000" stroke="#000" stroke-width="0.45">k</text>
<text x="656.7" y="256.6" font-size="14.0" textLength="12.9" lengthAdjust="spacingAndGlyphs" fill="#000" style="fill:#000" stroke="#000" stroke-width="0.45">m</text>
<path d="M678.21 246.07L670.47 259.40" fill="none" stroke="#000" stroke-width="1.5"/>
<text x="679.1" y="256.6" font-size="14.0" textLength="7.3" lengthAdjust="spacingAndGlyphs" fill="#000" style="fill:#000" stroke="#000" stroke-width="0.45">s</text>
<text x="579.8" y="280.9" font-size="14.0" textLength="5.6" lengthAdjust="spacingAndGlyphs" fill="#000" style="fill:#000" stroke="#000" stroke-width="0.45">r</text>
<path d="M586.61 275.44h8.74M586.61 278.62h8.74" fill="none" stroke="#000" stroke-width="1.5"/>
<text x="596.6" y="280.9" font-size="14.0" textLength="8.6" lengthAdjust="spacingAndGlyphs" fill="#000" style="fill:#000" stroke="#000" stroke-width="0.45">5</text>
<text x="612.6" y="280.9" font-size="14.0" textLength="10.3" lengthAdjust="spacingAndGlyphs" fill="#000" style="fill:#000" stroke="#000" stroke-width="0.45">M</text>
<text x="622.9" y="280.9" font-size="14.0" textLength="8.2" lengthAdjust="spacingAndGlyphs" fill="#000" style="fill:#000" stroke="#000" stroke-width="0.45">p</text>
<text x="631.1" y="280.9" font-size="14.0" textLength="7.3" lengthAdjust="spacingAndGlyphs" fill="#000" style="fill:#000" stroke="#000" stroke-width="0.45">c</text>
<g transform="translate(66,213.8) rotate(-90)">
<text x="-1.2" y="0.0" font-size="19.7" textLength="11.2" lengthAdjust="spacingAndGlyphs">R</text>
<text x="12.2" y="6.9" font-size="14.0">50</text>
<path d="M45.7 -16.0H40.4V6.2H45.7M84.6 -16.0H89.4V6.2H84.6" fill="none" stroke="#000" stroke-width="1.5"/>
<text x="47.5" y="0.0" font-size="19.0" textLength="34.3" lengthAdjust="spacingAndGlyphs">kpc</text>
</g>
<text x="325.9" y="360.6" font-size="19.0" textLength="29.3" lengthAdjust="spacingAndGlyphs">log</text>
<text x="356.6" y="365.2" font-size="12.5" textLength="15.4" lengthAdjust="spacingAndGlyphs" stroke="#000" stroke-width="0.3">10</text>
<path d="M378.6 344.7Q371.0 355.4 378.6 366.0" fill="none" stroke="#000" stroke-width="1.5" stroke-linecap="round"/>
<text x="381.6" y="360.6" font-size="19.0" textLength="14.6" lengthAdjust="spacingAndGlyphs">M</text>
<path d="M399.8 360.6v4.4M397.9 361.7l3.8 2.2M397.9 363.9l3.8 -2.2" fill="none" stroke="#000" stroke-width="1.0"/>
<path d="M415.9 344.9L404.7 365.4" fill="none" stroke="#000" stroke-width="1.5" stroke-linecap="round"/>
<path d="M424.5 344.7Q416.5 355.4 424.5 366.0" fill="none" stroke="#000" stroke-width="1.5" stroke-linecap="round"/>
<text x="427.4" y="360.6" font-size="19.0" textLength="11.7" lengthAdjust="spacingAndGlyphs">h</text>
<path d="M441.2 347.1H448.2" fill="none" stroke="#000" stroke-width="1.4"/>
<text x="449.9" y="351.3" font-size="13.6" textLength="7.9" lengthAdjust="spacingAndGlyphs" stroke="#000" stroke-width="0.3">2</text>
<text x="458.6" y="360.6" font-size="19.0" textLength="14.6" lengthAdjust="spacingAndGlyphs">M</text>
<circle cx="480" cy="361.1" r="4.3" fill="none" stroke="#000" stroke-width="1.4"/><circle cx="480" cy="361.1" r="1.3" fill="#000"/>
<path d="M486.9 344.7Q494.3 355.4 486.9 366.0" fill="none" stroke="#000" stroke-width="1.5" stroke-linecap="round"/>
<path d="M495.9 344.7Q504.1 355.4 495.9 366.0" fill="none" stroke="#000" stroke-width="1.5" stroke-linecap="round"/>
</g>
</svg></body></html>
